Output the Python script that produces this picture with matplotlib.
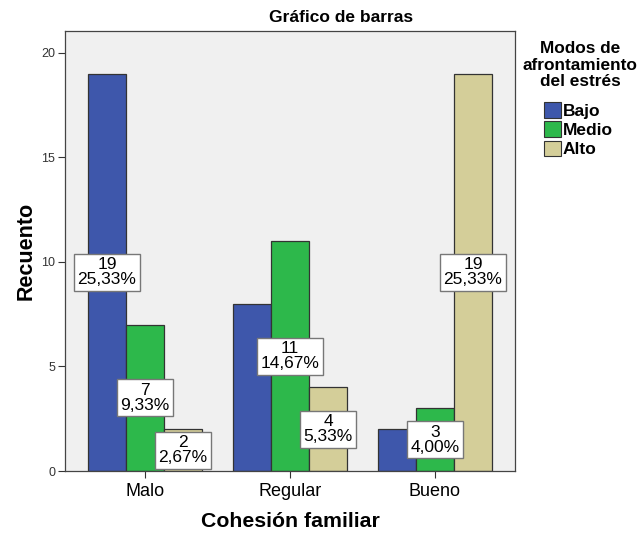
import matplotlib
matplotlib.use('Agg')
import matplotlib.pyplot as plt
from matplotlib.patches import Patch
import numpy as np

plt.rcParams['font.family'] = ['Liberation Sans', 'DejaVu Sans']

# data
categories = ['Malo', 'Regular', 'Bueno']
series_names = ['Bajo', 'Medio', 'Alto']
counts = {
    'Bajo': [19, 8, 2],
    'Medio': [7, 11, 3],
    'Alto': [2, 4, 19],
}
total = 75
# which bar labels are visible (SPSS hid overlapping ones)
shown = {
    'Bajo': [True, False, False],
    'Medio': [True, True, True],
    'Alto': [True, True, True],
}
colors = ['#3E57AB', '#2DB84B', '#D4CE99']

fig = plt.figure(figsize=(6.42, 5.33), dpi=100)
ax = fig.add_axes([65/642, 62/533, 450/642, 440/533])
ax.set_facecolor('#F0F0F0')

x = np.arange(len(categories))
w = 0.262
for i, name in enumerate(series_names):
    pos = x + (i - 1) * w
    ax.bar(pos, counts[name], width=w, color=colors[i], edgecolor='#333333',
           linewidth=0.9, zorder=2)

for i, name in enumerate(series_names):
    pos = x + (i - 1) * w
    for j, v in enumerate(counts[name]):
        if not shown[name][j]:
            continue
        pct = ('%.2f' % (100.0 * v / total)).replace('.', ',') + '%'
        ax.text(pos[j], v / 2.0, '%d\n%s' % (v, pct), ha='center', va='center',
                fontsize=12.5, linespacing=1.0, zorder=5,
                bbox=dict(boxstyle='square,pad=0.2', fc='white', ec='#777777', lw=1.0))

ax.set_xlim(-0.552, 2.552)
ax.set_ylim(0, 21.05)
ax.set_xticks(x)
ax.set_xticklabels(categories, fontsize=13)
ax.set_yticks([0, 5, 10, 15, 20])
ax.tick_params(axis='y', labelsize=9, colors='#333333', length=5, width=0.8, pad=2)
ax.tick_params(axis='x', length=5, width=0.8, colors='#333333', pad=4)
for lab in ax.get_xticklabels():
    lab.set_color('black')
for s in ax.spines.values():
    s.set_color('#444444')
    s.set_linewidth(0.9)

ax.set_xlabel('Cohesión familiar', fontsize=15.3, fontweight='bold', labelpad=8)
ax.set_ylabel('Recuento', fontsize=15.5, fontweight='bold', labelpad=3)
fig.text(341/642, 1 - 17/533, 'Gráfico de barras', ha='center', va='center',
         fontsize=12.5, fontweight='bold')

fig.text(580/642, 1 - 65/533, 'Modos de\nafrontamiento\ndel estrés', ha='center',
         va='center', fontsize=12.4, fontweight='bold', linespacing=1.15)
handles = [Patch(facecolor=c, edgecolor='#333333', lw=0.8) for c in colors]
fig.legend(handles, series_names, loc='upper left', bbox_to_anchor=(544/642, 1 - 102/533),
           frameon=False, prop={'size': 12.5, 'weight': 'bold'}, handlelength=1.0,
           handleheight=1.0, handletextpad=0.08, labelspacing=0.15, borderpad=0,
           borderaxespad=0)

fig.savefig('out.png', dpi=100)
